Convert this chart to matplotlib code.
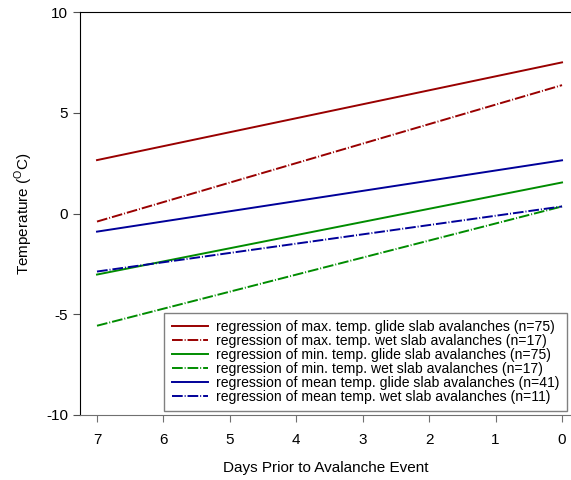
import matplotlib
matplotlib.use("Agg")
import matplotlib.pyplot as plt

plt.rcParams['font.family'] = ['Liberation Sans', 'DejaVu Sans']
plt.rcParams['axes.unicode_minus'] = False

days = [7, 0]
max_glide = [2.65, 7.5]
max_wet = [-0.4, 6.37]
min_glide = [-3.03, 1.54]
min_wet = [-5.57, 0.35]
mean_glide = [-0.9, 2.64]
mean_wet = [-2.88, 0.35]

labels = [
    "regression of max. temp. glide slab avalanches (n=75)",
    "regression of max. temp. wet slab avalanches (n=17)",
    "regression of min. temp. glide slab avalanches (n=75)",
    "regression of min. temp. wet slab avalanches (n=17)",
    "regression of mean temp. glide slab avalanches (n=41)",
    "regression of mean temp. wet slab avalanches (n=11)",
]

red = '#990000'
green = '#008c00'
blue = '#000099'
dashdot = (0, (5.5, 1.0, 0.5, 1.0))

fig = plt.figure(figsize=(5.71, 4.8), dpi=100)
ax = fig.add_axes([80 / 571, 1 - 415 / 480, 1 - 80 / 571, (415 - 12) / 480])

ax.plot(days, max_glide, color=red, lw=1.4, label=labels[0])
ax.plot(days, max_wet, color=red, lw=1.4, ls=dashdot, label=labels[1])
ax.plot(days, min_glide, color=green, lw=1.4, label=labels[2])
ax.plot(days, min_wet, color=green, lw=1.4, ls=dashdot, label=labels[3])
ax.plot(days, mean_glide, color=blue, lw=1.4, label=labels[4])
ax.plot(days, mean_wet, color=blue, lw=1.4, ls=dashdot, label=labels[5])

ax.set_xlim(7.256, -0.135)
ax.set_ylim(-10, 10)
ax.set_xticks(range(0, 8))
ax.set_yticks([-10, -5, 0, 5, 10])

ax.spines['right'].set_visible(False)
ax.spines['bottom'].set_color('#707070')
ax.tick_params(axis='x', direction='out', length=5, color='#707070', labelsize=11, pad=8)
ax.tick_params(axis='y', direction='out', length=5, color='#505050', labelsize=11)

ax.set_xlabel("Days Prior to Avalanche Event", fontsize=11, labelpad=10)
ax.set_ylabel(r"Temperature ($^{\mathregular{O}}$C)", fontsize=11, labelpad=8)

leg = ax.legend(loc='lower right', fontsize=10.1, frameon=True, fancybox=False,
                edgecolor='#606060', borderaxespad=0.3, handlelength=2.6,
                labelspacing=0.0, borderpad=0.5, handletextpad=0.6)
leg.get_frame().set_linewidth(1.0)

fig.savefig("out.png", dpi=100)
